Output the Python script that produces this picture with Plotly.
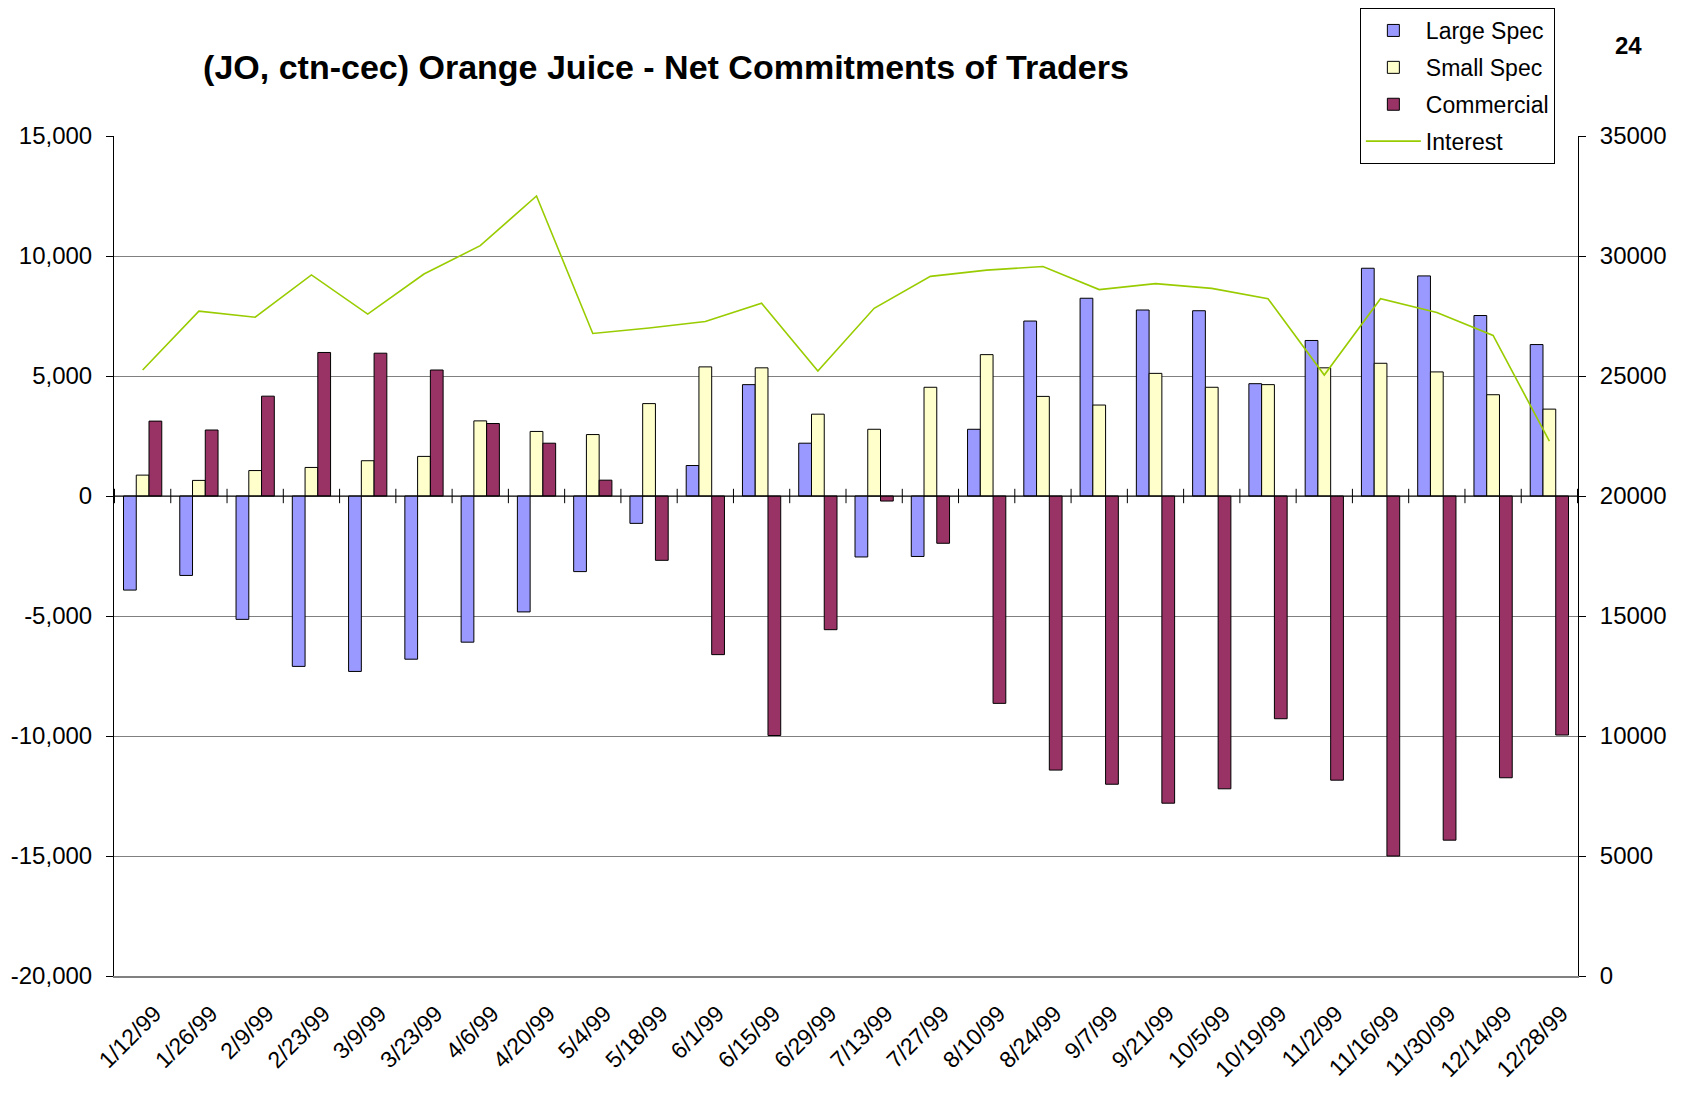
import plotly.graph_objects as go

dates = ["1/12/99", "1/26/99", "2/9/99", "2/23/99", "3/9/99", "3/23/99", "4/6/99", "4/20/99",
         "5/4/99", "5/18/99", "6/1/99", "6/15/99", "6/29/99", "7/13/99", "7/27/99", "8/10/99",
         "8/24/99", "9/7/99", "9/21/99", "10/5/99", "10/19/99", "11/2/99", "11/16/99", "11/30/99",
         "12/14/99", "12/28/99"]

large_spec = [-3920, -3310, -5140, -7100, -7310, -6800, -6090, -4830, -3150, -1140,
              1270, 4640, 2200, -2540, -2520, 2780, 7290, 8240, 7750, 7720,
              4680, 6480, 9490, 9170, 7520, 6310]
small_spec = [870, 650, 1060, 1190, 1470, 1650, 3130, 2690, 2560, 3850,
              5380, 5340, 3410, 2780, 4530, 5890, 4150, 3790, 5110, 4530,
              4640, 5340, 5530, 5170, 4220, 3620]
commercial = [3120, 2750, 4160, 5980, 5950, 5250, 3020, 2200, 660, -2680,
              -6610, -9980, -5570, -210, -1970, -8640, -11420, -12010, -12800, -12200,
              -9280, -11840, -15000, -14340, -11740, -9960]
interest = [25250, 27700, 27450, 29210, 27580, 29250, 30430, 32500, 26770, 27000,
            27270, 28030, 25210, 27820, 29150, 29410, 29560, 28600, 28850, 28650,
            28220, 25040, 28220, 27650, 26690, 22290]

left_tick_vals = [-20000, -15000, -10000, -5000, 0, 5000, 10000, 15000]
left_tick_text = ["-20,000", "-15,000", "-10,000", "-5,000", "0", "5,000", "10,000", "15,000"]
right_tick_vals = [0, 5000, 10000, 15000, 20000, 25000, 30000, 35000]
right_tick_text = ["0", "5000", "10000", "15000", "20000", "25000", "30000", "35000"]

FONT = "Liberation Sans, Arial, sans-serif"
bar_line = dict(color="#000000", width=1)

fig = go.Figure()
fig.add_trace(go.Bar(x=dates, y=large_spec, name="Large Spec", legendgroup="a",
                     marker=dict(color="#9999FF", line=bar_line)))
fig.add_trace(go.Bar(x=dates, y=small_spec, name="Small Spec", legendgroup="b",
                     marker=dict(color="#FFFFCC", line=bar_line)))
fig.add_trace(go.Bar(x=dates, y=commercial, name="Commercial", legendgroup="c",
                     marker=dict(color="#993366", line=bar_line)))
fig.add_trace(go.Scatter(x=dates, y=interest, name="Interest", mode="lines", legendgroup="d",
                         line=dict(color="#99CC00", width=1.6), yaxis="y2"))

# cross tick marks on the zero line at category boundaries
shapes = []
for i in range(len(dates) + 1):
    shapes.append(dict(type="line", xref="x", yref="y", x0=i - 0.5, x1=i - 0.5,
                       y0=-300, y1=300, line=dict(color="#000000", width=1), layer="above"))
shapes.append(dict(type="line", xref="paper", yref="y", x0=0, x1=1, y0=0, y1=0,
                   line=dict(color="#000000", width=1), layer="above"))

# page body has an 8px margin; offsets below compensate so the plot lands where the reference has it
L, T, PW, PH = 106, 128, 1464, 840
W, H = 1680, 1087

fig.update_layout(
    width=W, height=H,
    margin=dict(l=L, r=W - L - PW, t=T, b=H - T - PH, autoexpand=False),
    paper_bgcolor="white", plot_bgcolor="white",
    font=dict(family=FONT, size=24, color="#000000"),
    barmode="group", bargap=0.32, bargroupgap=0,
    showlegend=True,
    legend=dict(x=0.851, y=1 + T / PH, xanchor="left", yanchor="top",
                bgcolor="white", bordercolor="#000000", borderwidth=1,
                font=dict(family=FONT, size=23), tracegroupgap=4, itemwidth=55,
                traceorder="grouped"),
    title=dict(text="<b>(JO, ctn-cec) Orange Juice - Net Commitments of Traders</b>",
               x=(666 - 8) / W, xanchor="center", y=1 - (67 - 8) / H, yanchor="middle",
               font=dict(family=FONT, size=34, color="#000000")),
    xaxis=dict(type="category", tickangle=-45, showgrid=False, showline=True,
               linecolor="#808080", linewidth=2, ticks="", automargin=False,
               ticklabelstandoff=13, ticklabelshift=12, tickfont=dict(family=FONT, size=23)),
    yaxis=dict(range=[-20000, 15000], tickvals=left_tick_vals, ticktext=left_tick_text,
               showgrid=True, gridcolor="#808080", gridwidth=1, zeroline=False, showline=True,
               linecolor="#000000", linewidth=1, ticks="outside", ticklen=7, automargin=False,
               tickcolor="#000000", ticklabelstandoff=9, tickfont=dict(family=FONT, size=24)),
    yaxis2=dict(range=[0, 35000], tickvals=right_tick_vals, ticktext=right_tick_text,
                overlaying="y", side="right", automargin=False,
                showgrid=False, zeroline=False, showline=True, linecolor="#000000",
                linewidth=1, ticks="outside", ticklen=7, tickcolor="#000000",
                ticklabelstandoff=9, tickfont=dict(family=FONT, size=24)),
    shapes=shapes,
    annotations=[dict(text="<b>24</b>", xref="paper", yref="paper",
                      x=(1628 - 8 - L) / PW, y=(T + PH - (46 - 8)) / PH, xanchor="center",
                      yanchor="middle", showarrow=False,
                      font=dict(family=FONT, size=24, color="#000000"))],
)

fig.write_html("out.html")
